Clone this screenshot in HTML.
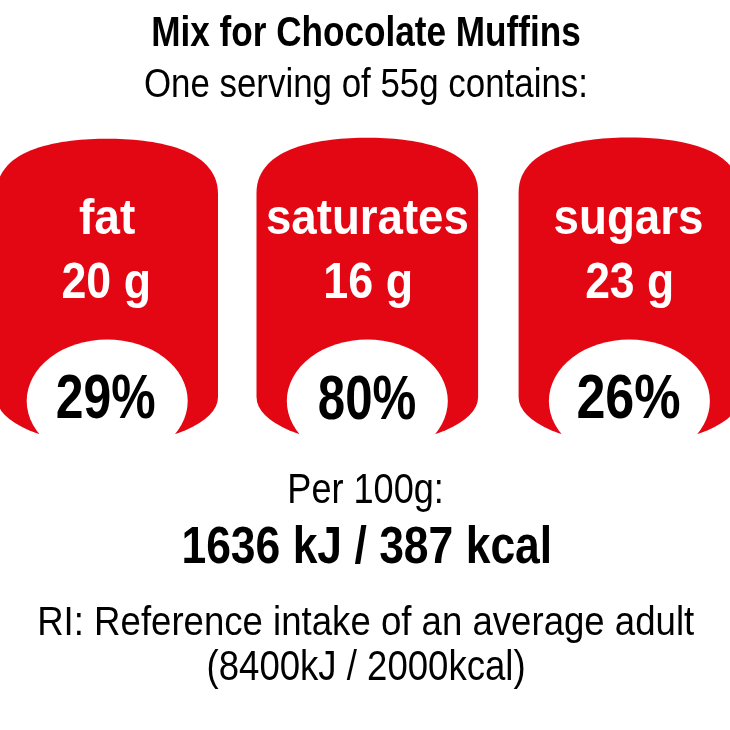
<!DOCTYPE html>
<html><head><meta charset="utf-8"><title>Nutrition label</title>
<style>
html,body{margin:0;padding:0;background:#fff;}
body{width:730px;height:730px;overflow:hidden;}
svg{display:block;position:absolute;left:-5px;top:-5px;will-change:transform;filter:blur(0.45px);font-family:"Liberation Sans",sans-serif;}
</style></head>
<body>
<svg width="740" height="740" viewBox="-5 -5 740 740">
<rect x="-5" y="-5" width="740" height="740" fill="#fff"/>
<path d="M-3.60,397 L-3.60,194.0 C-3.60,147.08 62.88,138.8 107.20,138.8 C151.52,138.8 218.00,147.08 218.00,194.0 L218.00,397 A110.8 47 0 0 1 -3.60,397 Z" fill="#E30613"/>
<ellipse cx="107.2" cy="401" rx="80.5" ry="61.5" fill="#fff"/>
<path d="M256.50,397 L256.50,193 C256.50,146.08 322.98,137.8 367.30,137.8 C411.62,137.8 478.10,146.08 478.10,193 L478.10,397 A110.8 47 0 0 1 256.50,397 Z" fill="#E30613"/>
<ellipse cx="367.3" cy="401" rx="80.5" ry="61.5" fill="#fff"/>
<path d="M518.60,397 L518.60,192.7 C518.60,145.78 585.08,137.5 629.40,137.5 C673.72,137.5 740.20,145.78 740.20,192.7 L740.20,397 A110.8 47 0 0 1 518.60,397 Z" fill="#E30613"/>
<ellipse cx="629.4" cy="401" rx="80.5" ry="61.5" fill="#fff"/>
<text transform="translate(366.0 45.7) scale(0.831 1)" text-anchor="middle" font-weight="700" font-size="42.3" fill="#000">Mix for Chocolate Muffins</text>
<text transform="translate(365.9 97.2) scale(0.849 1)" text-anchor="middle" font-weight="400" font-size="41.1" fill="#000">One serving of 55g contains:</text>
<text transform="translate(107.1 234) scale(0.913 1)" text-anchor="middle" font-weight="700" font-size="50.5" fill="#fff">fat</text>
<text transform="translate(106.2 297.6) scale(0.905 1)" text-anchor="middle" font-weight="700" font-size="49.4" fill="#fff">20 g</text>
<text transform="translate(367.4 233.5) scale(0.903 1)" text-anchor="middle" font-weight="700" font-size="50.5" fill="#fff">saturates</text>
<text transform="translate(368.2 297.6) scale(0.908 1)" text-anchor="middle" font-weight="700" font-size="49.4" fill="#fff">16 g</text>
<text transform="translate(628.5 233.5) scale(0.905 1)" text-anchor="middle" font-weight="700" font-size="50.5" fill="#fff">sugars</text>
<text transform="translate(629.6 297.6) scale(0.9 1)" text-anchor="middle" font-weight="700" font-size="49.4" fill="#fff">23 g</text>
<text transform="translate(105.6 418.4) scale(0.785 1)" text-anchor="middle" font-weight="700" font-size="63.6" fill="#000">29%</text>
<text transform="translate(367.1 418.6) scale(0.774 1)" text-anchor="middle" font-weight="700" font-size="63.6" fill="#000">80%</text>
<text transform="translate(628.5 418.4) scale(0.819 1)" text-anchor="middle" font-weight="700" font-size="63.6" fill="#000">26%</text>
<text transform="translate(365.6 502.9) scale(0.842 1)" text-anchor="middle" font-weight="400" font-size="42.9" fill="#000">Per 100g:</text>
<text transform="translate(366.8 563.0) scale(0.872 1)" text-anchor="middle" font-weight="700" font-size="51.0" fill="#000">1636 kJ / 387 kcal</text>
<text transform="translate(365.7 634.9) scale(0.895 1)" text-anchor="middle" font-weight="400" font-size="40.9" fill="#000">RI: Reference intake of an average adult</text>
<text transform="translate(366.1 680.2) scale(0.875 1)" text-anchor="middle" font-weight="400" font-size="41.8" fill="#000">(8400kJ / 2000kcal)</text>
</svg>
</body></html>
